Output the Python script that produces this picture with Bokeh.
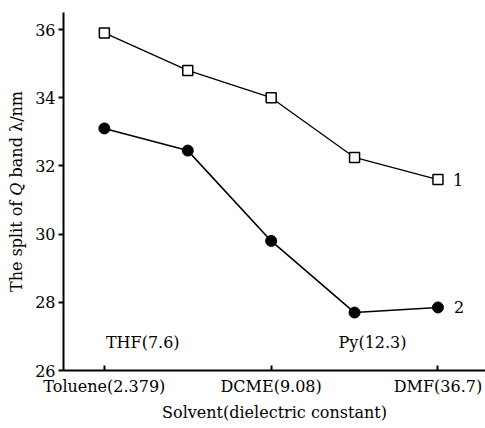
from bokeh.plotting import figure
from bokeh.models import Range1d, FixedTicker
from bokeh.embed import file_html
from bokeh.resources import INLINE
from bokeh.core.properties import value

solvents = ["Toluene(2.379)", "THF(7.6)", "DCME(9.08)", "Py(12.3)", "DMF(36.7)"]
xpos = [0, 1, 2, 3, 4]
series1 = [35.9, 34.8, 34.0, 32.25, 31.6]
series2 = [33.1, 32.45, 29.8, 27.7, 27.85]
yticks = [26, 28, 30, 32, 34, 36]

FONT = "DejaVu Serif"

p = figure(width=485, height=428, output_backend="svg", toolbar_location=None,
           x_range=Range1d(-0.49, 4.57), y_range=Range1d(26, 36.5),
           min_border_left=63, min_border_right=0, min_border_top=12, min_border_bottom=58)
p.outline_line_color = None
p.grid.visible = False
p.background_fill_color = "white"
p.border_fill_color = "white"

p.line(xpos, series1, line_color="black", line_width=1.3)
p.scatter(xpos, series1, marker="square", size=10, fill_color="white", line_color="black", line_width=1.5)
p.line(xpos, series2, line_color="black", line_width=1.6)
p.scatter(xpos, series2, marker="circle", size=11, fill_color="black", line_color="black")

# x axis
p.xaxis.ticker = FixedTicker(ticks=[0, 2, 4])
p.xaxis.major_label_overrides = {0: solvents[0], 2: solvents[2], 4: solvents[4]}
p.xaxis.major_tick_in = 5
p.xaxis.major_tick_out = 0
p.xaxis.minor_tick_line_color = None
p.xaxis.axis_line_width = 2
p.xaxis.major_tick_line_width = 2
p.xaxis.axis_label = "Solvent(dielectric constant)"
p.xaxis.major_label_text_font = FONT
p.xaxis.major_label_text_font_size = "16px"
p.xaxis.major_label_text_color = "black"
p.xaxis.major_label_standoff = 6
p.xaxis.axis_label_text_font = FONT
p.xaxis.axis_label_text_font_size = "16px"
p.xaxis.axis_label_text_font_style = "normal"
p.xaxis.axis_label_text_color = "black"
p.xaxis.axis_label_standoff = 4

# y axis
p.yaxis.ticker = FixedTicker(ticks=yticks)
p.yaxis.major_tick_in = 0
p.yaxis.major_tick_out = 5
p.yaxis.minor_tick_line_color = None
p.yaxis.axis_line_width = 2
p.yaxis.major_tick_line_width = 2
p.yaxis.major_label_text_font = FONT
p.yaxis.major_label_text_font_size = "16px"
p.yaxis.major_label_text_color = "black"
p.yaxis.major_label_standoff = 3
p.yaxis.axis_label = "The split of \U0001D444 band \u03bb/nm"
p.yaxis.axis_label_text_font = FONT
p.yaxis.axis_label_text_font_size = "16px"
p.yaxis.axis_label_text_font_style = "normal"
p.yaxis.axis_label_text_color = "black"
p.yaxis.axis_label_standoff = 6

# in-plot category labels
p.text(x=[xpos[1], xpos[3]], y=[26.82, 26.82], text=[solvents[1], solvents[3]],
       x_offset=[-45, 18],
       text_font=value(FONT), text_font_size="16px", text_align="center",
       text_baseline="alphabetic", text_color="black")

# series labels
p.text(x=[4, 4], y=[series1[4], series2[4]], text=["1", "2"], x_offset=[15, 16],
       text_font=value(FONT), text_font_size="16px", text_align="left",
       text_baseline="middle", text_color="black")

open("out.html", "w").write(file_html(p, INLINE))
